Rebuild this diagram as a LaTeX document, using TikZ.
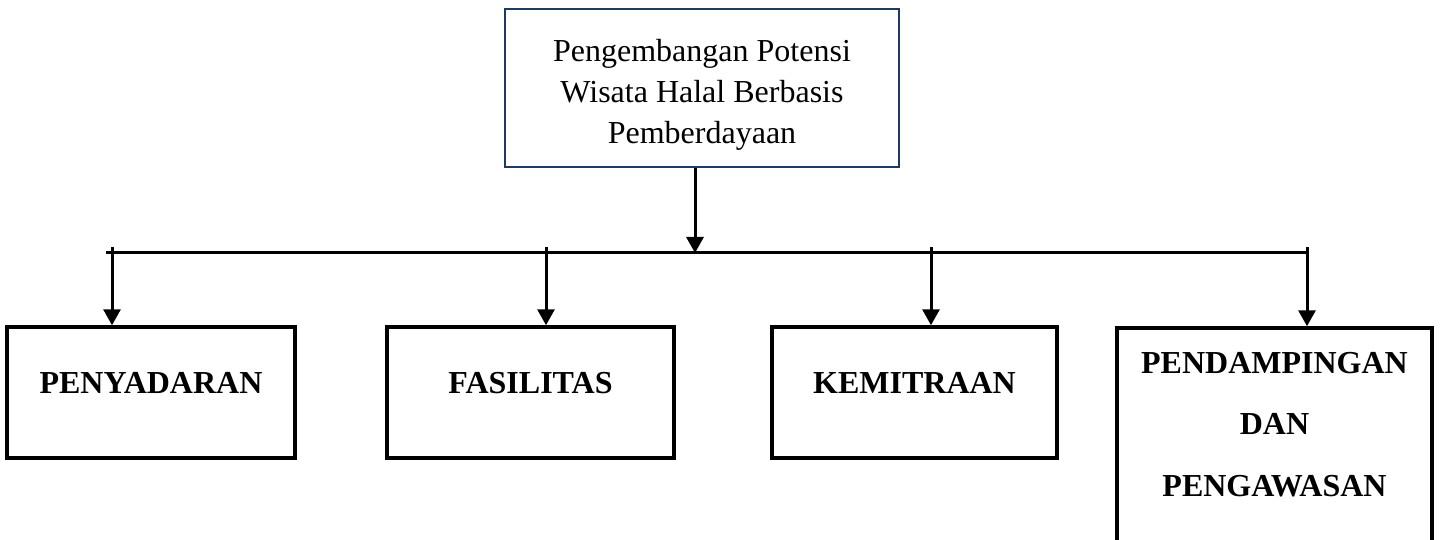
\documentclass[tikz,border=0pt]{standalone}
\usepackage{fontspec}
\setmainfont{Liberation Serif}
\usetikzlibrary{arrows.meta}
\definecolor{navy}{HTML}{1F3A60}
\begin{document}
\begin{tikzpicture}[x=1pt,y=-1pt,
  topbox/.style={draw=navy,line width=2.2pt,rectangle,inner sep=0pt,minimum width=394pt,minimum height=158pt},
  catbox/.style={draw=black,line width=3.5pt,rectangle,inner sep=0pt,minimum height=131pt,
     font=\fontsize{32}{38}\selectfont\bfseries,text height=22pt,text depth=21pt},
  toptext/.style={align=center,inner sep=0pt,font=\fontsize{32}{41}\selectfont},
  cattext/.style={align=center,inner sep=0pt,font=\fontsize{32}{61.5}\selectfont\bfseries},
  conn/.style={line width=3pt},
  arr/.style={line width=3pt,-{Triangle[width=17pt,length=16pt]}}]
\useasboundingbox[fill=white] (0,0) rectangle (1441,540);

% top box
\node[topbox] (top) at (702,88) {};
\node[toptext] (toplbl) at (702,95) {Pengembangan Potensi\\Wisata Halal Berbasis\\Pemberdayaan};

% category boxes
\node[catbox,minimum width=288pt] (b1) at (151,392.5) {PENYADARAN};
\node[catbox,minimum width=287pt] (b2) at (530.5,392.5) {FASILITAS};
\node[catbox,minimum width=285pt] (b3) at (914.5,392.5) {KEMITRAAN};
\node[draw=black,line width=3.5pt,rectangle,inner sep=0pt,minimum width=315pt,minimum height=232pt] (b4) at (1274.5,444) {};
\node[cattext,anchor=north] (b4lbl) at (1274.5,352) {PENDAMPINGAN\\DAN\\PENGAWASAN};

% bar
\coordinate (barL) at (106,253);
\coordinate (barR) at (1308,253);
\coordinate (j) at (695,253);
\draw[conn] (barL) -- (barR);

% top arrow
\draw[arr] (top.south -| j) -- (j);

% branch arrows
\coordinate (s1) at (112,247);
\coordinate (s2) at (546,247);
\coordinate (s3) at (931,247);
\coordinate (s4) at (1307,247);
\draw[arr] (s1) -- (s1 |- b1.north);
\draw[arr] (s2) -- (s2 |- b2.north);
\draw[arr] (s3) -- (s3 |- b3.north);
\draw[arr] (s4) -- (s4 |- b4.north);
\end{tikzpicture}
\end{document}
